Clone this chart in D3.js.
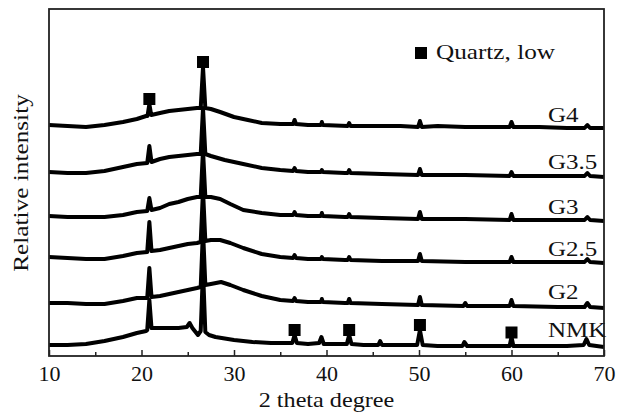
<!DOCTYPE html>
<html>
<head>
<meta charset="utf-8">
<script src="https://cdn.jsdelivr.net/npm/d3@7"></script>
<style>
  html, body { margin: 0; padding: 0; background: #fff; }
  svg { display: block; }
  text { font-family: "Liberation Serif", "Times New Roman", serif; fill: #111; }
</style>
</head>
<body>
<svg id="chart" width="618" height="414"></svg>
<script>
// ---- data (2θ in degrees, relative intensity in a.u., patterns already stacked) ----
const seriesNames = ["NMK", "G2", "G2.5", "G3", "G3.5", "G4"];

const NMK = [[10,11],[12,11],[14,12],[16,15],[18,19],[19.5,23],[20.5,25],[20.62,26],[20.85,56],[21.08,28],[22,28],[23,28],[24,28],[24.9,29],[25.2,33],[25.5,28],[26.1,21],[26.4,25],[26.65,86],[26.9,24],[27.3,21],[28,19],[30,16],[32,14],[34,13],[36.3,13],[36.55,21],[36.8,13],[38,12],[39.2,13],[39.45,19],[39.7,12],[41,12],[42.2,12],[42.45,21],[42.7,12],[44,11],[45.6,11],[45.8,15],[46,11],[48,11],[49.8,11],[50.1,26],[50.4,11],[52,10],[54.7,10],[54.9,14],[55.2,10],[57,10],[59.8,10],[60.0,19],[60.2,10],[62,10],[64,10],[66,10],[67.8,11],[68.1,17],[68.4,11],[70,9]];

const G2 = [[10,53],[12,53],[14,52],[16,52],[18,55],[19.5,58],[20.62,58],[20.85,88],[21.08,59],[22,60],[23,62],[24,64],[25,66],[26,68],[26.4,69],[26.65,126],[26.9,71],[27.5,72],[28.6,74],[29.6,71],[31,66],[33,60],[35,56],[36.4,55],[36.55,58],[36.7,55],[38,54],[39.4,54],[39.5,57],[39.6,54],[42,53],[42.3,53],[42.45,57],[42.6,53],[46,52],[49.9,51],[50.1,59],[50.3,51],[54.8,50],[55,53],[55.2,50],[59.8,50],[60,56],[60.2,50],[65,49],[67.9,49],[68.2,53],[68.5,49],[70,48]];

const G25 = [[10,99],[12,98],[14,97],[16,97],[18,100],[19.5,103],[20.62,104],[20.85,134],[21.08,105],[22,106],[23,108],[24,110],[25,112],[26,113],[26.4,114],[26.65,166],[26.9,115],[27.5,116],[28.5,116],[29.6,113],[31,108],[33,102],[35,99],[36.4,98],[36.55,101],[36.7,98],[38,97],[39.4,97],[39.5,99],[39.6,97],[42,96],[42.3,96],[42.45,99],[42.6,96],[46,95],[49.9,95],[50.1,102],[50.3,95],[55,94],[59.8,94],[60,99],[60.2,94],[65,94],[67.9,94],[68.2,97],[68.5,94],[70,93]];

const G3 = [[10,140],[12,139],[14,139],[16,139],[18,141],[19.5,144],[20.62,145],[20.85,158],[21.08,146],[22,148],[23,152],[24,154],[25,157],[26,159],[26.4,159],[26.65,206],[26.9,159],[27.5,159],[28.5,157],[29.6,152],[31,146],[33,143],[35,141],[36.4,141],[36.55,144],[36.7,141],[38,140],[39.4,140],[39.5,143],[39.6,140],[42,139],[42.3,139],[42.45,142],[42.6,139],[46,138],[49.9,137],[50.1,144],[50.3,137],[55,137],[59.8,136],[60,142],[60.2,136],[65,136],[67.9,136],[68.2,139],[68.5,136],[70,135]];

const G35 = [[10,184],[12,183],[14,183],[16,185],[18,189],[19.5,192],[20.62,193],[20.85,210],[21.08,194],[22,197],[23,199],[24,200],[25,201],[26,202],[26.4,202],[26.65,248],[26.9,202],[27.5,200],[29,196],[31,192],[33,188],[35,186],[36.4,185],[36.55,188],[36.7,185],[38,184],[39.4,184],[39.5,186],[39.6,184],[42,183],[42.3,183],[42.45,186],[42.6,183],[46,182],[49.9,181],[50.1,187],[50.3,181],[55,181],[59.8,180],[60,184],[60.2,180],[65,180],[67.9,180],[68.2,183],[68.5,180],[70,179]];

const G4 = [[10,231],[12,230],[14,229],[16,231],[18,234],[19.5,237],[20.5,240],[20.65,240],[20.85,252],[21.05,241],[22,243],[23,245],[24,246],[25,247],[26,248],[26.4,248],[26.65,289],[26.9,248],[27.5,247],[28.5,244],[30,239],[31.5,236],[33,233],[35,232],[36.4,232],[36.55,236],[36.7,232],[38,231],[39.4,231],[39.5,234],[39.6,231],[42.3,230],[42.45,233],[42.6,230],[45,230],[48,230],[49.9,229],[50.1,235],[50.3,229],[52,230],[55,229],[58,229],[59.8,229],[60,234],[60.2,229],[63,229],[66,228],[67.9,228],[68.2,231],[68.5,228],[70,228]];

const seriesData = [NMK, G2, G25, G3, G35, G4];
// label text and intensity level of its baseline
const seriesLabelPos = [["NMK", 18], ["G2", 56], ["G2.5", 99], ["G3", 141], ["G3.5", 186], ["G4", 233]];

// quartz (low) markers: [2θ, intensity]
const quartzMarks = [[20.85, 257], [26.65, 294], [36.55, 26], [42.45, 26], [50.1, 31], [60.0, 23.5]];

const xMajorTicks = [10, 20, 30, 40, 50, 60, 70];
const xMinorTicks = [15, 25, 35, 45, 55, 65];
const xTitle = "2 theta degree";
const yTitle = "Relative intensity";
const legendLabel = "Quartz, low";

// ---- layout ----
const svg = d3.select("#chart");
const L = 49, R = 604, T = 9, B = 356;

const x = d3.scaleLinear().domain([10, 70]).range([L, R]);
const y = d3.scaleLinear().domain([0, 347]).range([B, T]);

const line = d3.line().x(d => x(d[0])).y(d => y(d[1])).curve(d3.curveLinear);

const g = svg.append("g");
g.selectAll("path.trace").data(seriesData).enter().append("path")
  .attr("class", "trace")
  .attr("d", line)
  .attr("fill", "none")
  .attr("stroke", "#000")
  .attr("stroke-width", 4)
  .attr("stroke-linejoin", "round");

// markers
const ms = 12;
g.selectAll("rect.mark").data(quartzMarks).enter().append("rect")
  .attr("x", d => x(d[0]) - ms / 2)
  .attr("y", d => y(d[1]) - ms / 2)
  .attr("width", ms).attr("height", ms)
  .attr("fill", "#000");

// frame
svg.append("rect").attr("x", L).attr("y", T).attr("width", R - L).attr("height", B - T)
  .attr("fill", "none").attr("stroke", "#222").attr("stroke-width", 1.8);

// axes
const xAxis = d3.axisBottom(x).tickValues(xMajorTicks).tickSizeInner(-6).tickSizeOuter(0).tickPadding(9).tickFormat(d3.format("d"));
const ax = svg.append("g").attr("transform", `translate(0,${B})`).call(xAxis);
ax.select(".domain").remove();
ax.selectAll("line").attr("stroke", "#222").attr("stroke-width", 1.5);
ax.selectAll("text").attr("font-size", 22).attr("fill", "#111")
  .style("font-family", '"Liberation Serif", serif');

const xMinor = d3.axisBottom(x).tickValues(xMinorTicks).tickSizeInner(-4).tickSizeOuter(0).tickFormat("");
const axm = svg.append("g").attr("transform", `translate(0,${B})`).call(xMinor);
axm.select(".domain").remove();
axm.selectAll("line").attr("stroke", "#222").attr("stroke-width", 1.5);

// axis titles
svg.append("text").attr("text-anchor", "middle")
  .attr("transform", `translate(${(L + R) / 2},407) scale(1.1,1)`)
  .attr("font-size", 22).text(xTitle);
svg.append("text").attr("text-anchor", "middle")
  .attr("transform", `translate(28,183) rotate(-90) scale(1.15,1)`)
  .attr("font-size", 22).text(yTitle);

// series labels
svg.selectAll("text.slab").data(seriesLabelPos).enter().append("text")
  .attr("class", "slab")
  .attr("text-anchor", "start")
  .attr("transform", d => `translate(548,${y(d[1]) - 1}) scale(1.25,1)`)
  .attr("font-size", 20)
  .text(d => d[0]);

// legend
svg.append("rect").attr("x", 415).attr("y", 47).attr("width", 12).attr("height", 12).attr("fill", "#000");
svg.append("text").attr("transform", "translate(436,59) scale(1.2,1)").attr("font-size", 21).text(legendLabel);
</script>
</body>
</html>
